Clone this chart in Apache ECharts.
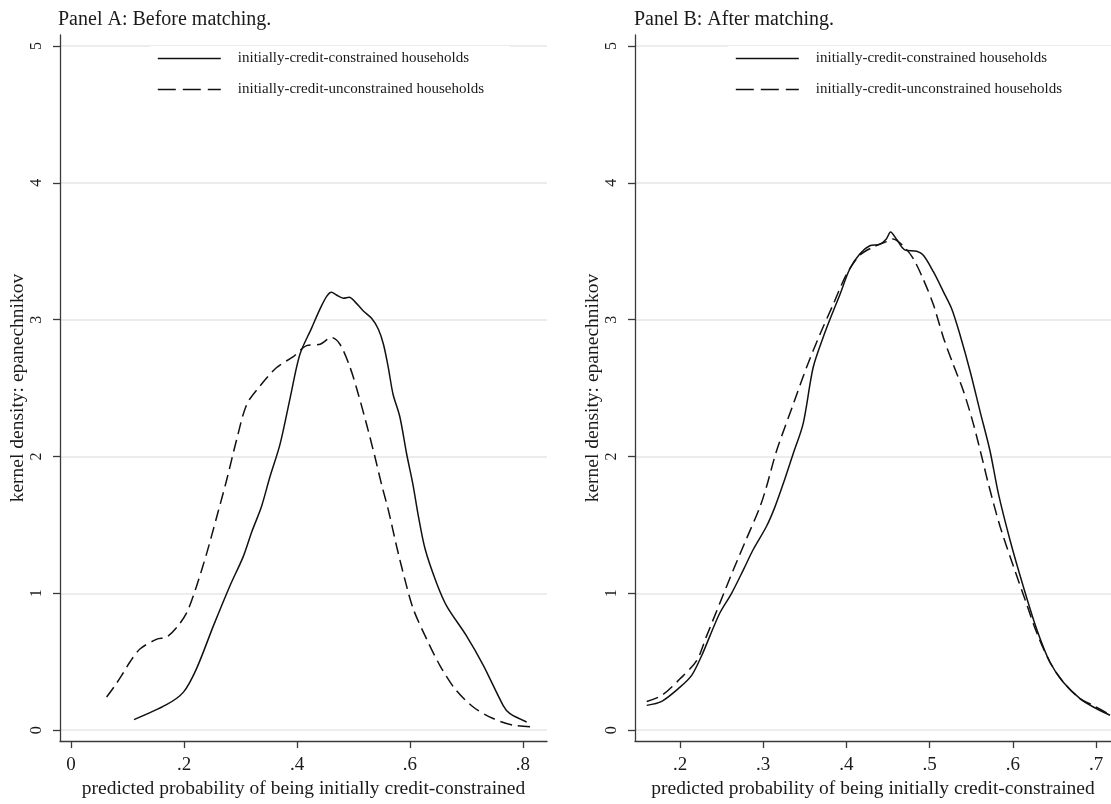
<!DOCTYPE html>
<html>
<head>
<meta charset="utf-8">
<script src="https://cdn.jsdelivr.net/npm/echarts@6/dist/echarts.min.js"></script>
<style>html,body{margin:0;padding:0;background:#fff;}#c{width:1111px;height:804px;}</style>
</head>
<body>
<div id="c"></div>
<script>
// ---- data ----
const seriesNames = ['initially-credit-constrained households', 'initially-credit-unconstrained households'];
const panelTitles = ['Panel A: Before matching.', 'Panel B: After matching.'];
const xAxisTitle = 'predicted probability of being initially credit-constrained';
const yAxisTitle = 'kernel density: epanechnikov';
const xTicksA = [0, 0.2, 0.4, 0.6, 0.8];
const xTicksB = [0.2, 0.3, 0.4, 0.5, 0.6, 0.7];
const yTicks = [0, 1, 2, 3, 4, 5];

const panelA_constrained = [
  [0.1115,0.077],[0.169,0.186],[0.199,0.278],[0.222,0.448],[0.252,0.762],[0.281,1.052],[0.305,1.27],
  [0.320,1.45],[0.337,1.633],[0.352,1.85],[0.370,2.09],[0.388,2.43],[0.405,2.745],[0.426,2.94],
  [0.441,3.08],[0.4525,3.17],[0.461,3.20],[0.470,3.18],[0.482,3.157],[0.4926,3.164],[0.5027,3.13],
  [0.517,3.065],[0.532,3.01],[0.544,2.93],[0.553,2.82],[0.5616,2.65],[0.570,2.455],[0.582,2.29],
  [0.594,2.02],[0.605,1.80],[0.615,1.56],[0.627,1.32],[0.647,1.076],[0.665,0.907],[0.700,0.689],
  [0.730,0.472],[0.765,0.18],[0.777,0.12],[0.8065,0.06]
];
const panelA_unconstrained = [
  [0.063,0.242],[0.078,0.327],[0.0897,0.40],[0.104,0.496],[0.122,0.593],[0.152,0.665],[0.169,0.68],
  [0.187,0.75],[0.205,0.86],[0.222,1.05],[0.240,1.29],[0.258,1.56],[0.2756,1.83],[0.293,2.12],
  [0.311,2.38],[0.3345,2.515],[0.364,2.65],[0.3935,2.73],[0.417,2.81],[0.441,2.82],[0.461,2.87],
  [0.476,2.82],[0.494,2.65],[0.5085,2.455],[0.523,2.237],[0.538,1.996],[0.550,1.79],[0.5616,1.61],
  [0.5765,1.34],[0.591,1.10],[0.606,0.883],[0.6295,0.665],[0.653,0.472],[0.6796,0.302],[0.712,0.169],
  [0.747,0.085],[0.783,0.036],[0.818,0.024]
];
const panelB_constrained = [
  [0.160,0.181],[0.178,0.21],[0.200,0.314],[0.214,0.40],[0.226,0.544],[0.236,0.689],[0.248,0.858],
  [0.262,1.00],[0.276,1.17],[0.288,1.32],[0.304,1.49],[0.314,1.63],[0.324,1.80],[0.336,2.02],
  [0.348,2.24],[0.360,2.65],[0.372,2.87],[0.384,3.06],[0.392,3.18],[0.404,3.37],[0.416,3.48],
  [0.428,3.54],[0.440,3.55],[0.448,3.59],[0.453,3.64],[0.460,3.59],[0.470,3.51],[0.4845,3.50],
  [0.4925,3.47],[0.5045,3.35],[0.5165,3.205],[0.5265,3.08],[0.5365,2.89],[0.5486,2.625],[0.5606,2.33],
  [0.5726,2.04],[0.5826,1.73],[0.5966,1.39],[0.6126,1.05],[0.6287,0.738],[0.6447,0.496],[0.6607,0.35],
  [0.6808,0.23],[0.6968,0.169],[0.7168,0.109]
];
const panelB_unconstrained = [
  [0.160,0.21],[0.178,0.254],[0.200,0.375],[0.220,0.508],[0.232,0.689],[0.248,0.93],[0.264,1.17],
  [0.280,1.40],[0.296,1.63],[0.304,1.78],[0.316,2.04],[0.336,2.38],[0.352,2.65],[0.368,2.89],
  [0.384,3.11],[0.400,3.33],[0.416,3.47],[0.432,3.53],[0.448,3.57],[0.456,3.59],[0.468,3.54],
  [0.480,3.45],[0.492,3.30],[0.5045,3.11],[0.5165,2.87],[0.5285,2.67],[0.5405,2.48],[0.5525,2.24],
  [0.5646,1.95],[0.5706,1.80],[0.5846,1.49],[0.6006,1.20],[0.6146,0.956],[0.6287,0.713],[0.6447,0.496],
  [0.6607,0.35],[0.6808,0.23],[0.6968,0.18],[0.7168,0.113]
];

// ---- chart ----
const FONT = '"Liberation Serif", "DejaVu Serif", serif';
const INK = '#1a1a1a';
const AXIS = '#3a3a3a';
const fmtX = v => { const r = Math.round(v * 10) / 10; return r === 0 ? '0' : String(r).replace(/^0\./, '.'); };

function xAxisCfg(gridIndex, min, max, ticks) {
  return {
    type: 'value', gridIndex, min, max,
    name: xAxisTitle, nameLocation: 'middle', nameGap: 31,
    nameTextStyle: { fontFamily: FONT, fontSize: 19.5, color: INK },
    axisLine: { show: true, onZero: false, lineStyle: { color: AXIS, width: 1.3 } },
    axisTick: { show: true, length: 7, customValues: ticks, lineStyle: { color: AXIS, width: 1.3 } },
    axisLabel: { customValues: ticks, formatter: fmtX, margin: 14, fontFamily: FONT, fontSize: 19, color: INK },
    splitLine: { show: false }
  };
}
function yAxisCfg(gridIndex) {
  return {
    type: 'value', gridIndex, min: -0.08, max: 5.08,
    name: yAxisTitle, nameLocation: 'middle', nameGap: 31,
    nameTextStyle: { fontFamily: FONT, fontSize: 19.5, color: INK },
    axisLine: { show: true, onZero: false, lineStyle: { color: AXIS, width: 1.3 } },
    axisTick: { show: true, length: 7, customValues: yTicks, lineStyle: { color: AXIS, width: 1.3 } },
    axisLabel: { customValues: yTicks, rotate: 90, margin: 15, fontFamily: FONT, fontSize: 16, color: INK },
    splitLine: { show: true, lineStyle: { color: '#e6e6e6', width: 1.5 } }
  };
}
function lineSeries(name, data, idx, dashed) {
  return {
    type: 'line', name, data, xAxisIndex: idx, yAxisIndex: idx,
    showSymbol: false, symbol: 'none', smooth: 0.3, z: 3,
    lineStyle: { color: '#111', width: 1.5, type: dashed ? [12, 6] : 'solid' },
    itemStyle: { color: '#111' }
  };
}
function legendCfg(left, top, padRight) {
  return {
    orient: 'vertical', left, top,
    data: [
      { name: seriesNames[0] },
      { name: seriesNames[1], lineStyle: { type: [18, 7] } }
    ],
    itemWidth: 63, itemHeight: 14, itemGap: 16,
    itemStyle: { opacity: 0 },
    lineStyle: { width: 1.6, color: '#111' },
    backgroundColor: '#fff', padding: [5, padRight, 5, 7],
    textStyle: { fontFamily: FONT, fontSize: 15, color: INK, padding: [0, 0, 0, 12] },
    selectedMode: false
  };
}

const chart = echarts.init(document.getElementById('c'), null, { renderer: 'canvas' });
chart.setOption({
  animation: false,
  backgroundColor: '#fff',
  title: [
    { text: panelTitles[0], left: 58, top: 10, padding: 0, textStyle: { fontFamily: FONT, fontSize: 20, fontWeight: 'normal', color: INK } },
    { text: panelTitles[1], left: 634, top: 10, padding: 0, textStyle: { fontFamily: FONT, fontSize: 20, fontWeight: 'normal', color: INK } }
  ],
  legend: [legendCfg(150, 46, 26), legendCfg(728, 46, 80)],
  grid: [
    { left: 60, top: 35, width: 487, height: 711 },
    { left: 635, top: 35, width: 476, height: 711 }
  ],
  xAxis: [xAxisCfg(0, -0.0195, 0.8425, xTicksA), xAxisCfg(1, 0.1459, 0.718, xTicksB)],
  yAxis: [yAxisCfg(0), yAxisCfg(1)],
  series: [
    lineSeries(seriesNames[0], panelA_constrained, 0, false),
    lineSeries(seriesNames[1], panelA_unconstrained, 0, true),
    lineSeries(seriesNames[0], panelB_constrained, 1, false),
    lineSeries(seriesNames[1], panelB_unconstrained, 1, true)
  ]
});
</script>
</body>
</html>
